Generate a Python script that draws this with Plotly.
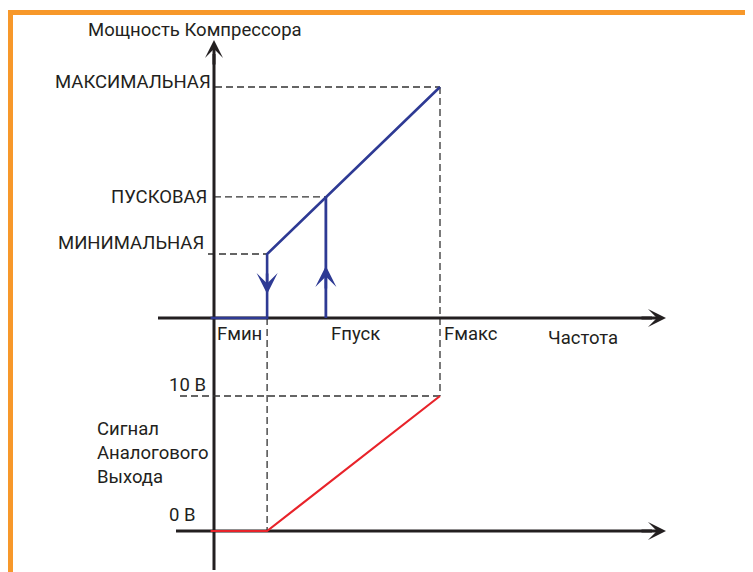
import plotly.graph_objects as go

# frequency marks on the horizontal axis (schematic units)
freq_marks = [23.5, 49.5, 100]
freq_labels = ["Fмин", "Fпуск", "Fмакс"]

# compressor power levels
power_levels = [27.7, 52.4, 100]
power_labels = ["МИНИМАЛЬНАЯ", "ПУСКОВАЯ", "МАКСИМАЛЬНАЯ"]

# analog output signal levels
volt_levels = [0, 10]
volt_labels = ["0 В", "10 В"]

# blue power curve
power_x = [-1.5, 23.5, 23.5, 100]
power_y = [0, 0, 27.7, 100]

# red analog output curve
signal_x = [-1.5, 23.5, 100]
signal_y = [0, 0, 10]

# page is drawn inside the default 8px body margin
OFF = 8
W, H = 753 - OFF, 572 - OFF
X0, XS = 214, 2.26      # page px of freq 0, px per unit
P0, PS = 318, 2.31      # page px of power 0, px per unit
V0, VS = 531, 13.5      # page px of 0 V, px per volt


def px_x(px):
    return (px - X0) / XS


def px_p(py):
    return (P0 - py) / PS


def px_v(py):
    return (V0 - py) / VS


FONT = "Roboto"
FSIZE = 18.5
TXT = "#231f20"
BLUE = "#2e3a94"
RED = "#e8232a"
DASH = "#333333"

fig = go.Figure()

fmin, fpusk, fmax = freq_marks
pmin, ppusk, pmax = power_levels

# dashed guide lines
dash_style = dict(color=DASH, width=1.3, dash="7px,4px")
guides = [
    ([px_x(215), fmax], [pmax, pmax], "y"),
    ([px_x(214), fpusk], [ppusk, ppusk], "y"),
    ([px_x(208), fmin], [pmin, pmin], "y"),
    ([fmax, fmax], [pmax, px_p(396)], "y"),
    ([fmin, fmin], [0, px_p(531)], "y"),
    ([px_x(180), fmax], [volt_levels[1], volt_levels[1]], "y2"),
]
for gx, gy, ax in guides:
    fig.add_trace(go.Scatter(x=gx, y=gy, yaxis=ax, mode="lines",
                             line=dash_style, hoverinfo="skip", showlegend=False))

# axis shafts (drawn under the curves)
axis_style = dict(color=TXT, width=3)
fig.add_trace(go.Scatter(x=[px_x(158), px_x(652)], y=[0, 0], mode="lines",
                         line=axis_style, hoverinfo="skip", showlegend=False))
fig.add_trace(go.Scatter(x=[0, 0], y=[px_p(570), px_p(54)], mode="lines",
                         line=axis_style, hoverinfo="skip", showlegend=False))
fig.add_trace(go.Scatter(x=[px_x(176), px_x(652)], y=[0, 0], yaxis="y2", mode="lines",
                         line=axis_style, hoverinfo="skip", showlegend=False))

# blue compressor power curve
fig.add_trace(go.Scatter(x=power_x, y=power_y, mode="lines",
                         line=dict(color=BLUE, width=2.6), showlegend=False))
fig.add_trace(go.Scatter(x=[fpusk, fpusk], y=[0, ppusk], mode="lines",
                         line=dict(color=BLUE, width=2.8), showlegend=False))

# red analog signal
fig.add_trace(go.Scatter(x=signal_x, y=signal_y, yaxis="y2", mode="lines",
                         line=dict(color=RED, width=2.2), showlegend=False))

annotations = []


def arrow_head(x0, y0, x1, y1, yref, color=TXT, width=3, size=1):
    annotations.append(dict(x=x1, y=y1, ax=x0, ay=y0, xref="x", yref=yref,
                            axref="x", ayref=yref, text="", showarrow=True,
                            arrowhead=3, arrowsize=size, arrowwidth=width,
                            arrowcolor=color, standoff=0))


# axis arrowheads
arrow_head(px_x(640), 0, px_x(666), 0, "y")
arrow_head(0, px_p(66), 0, px_p(40), "y")
arrow_head(px_x(640), 0, px_x(666), 0, "y2")

# blue direction arrows
arrow_head(fmin, px_p(272), fmin, px_p(294), "y", BLUE, 2.6, 1.35)
arrow_head(fpusk, px_p(290), fpusk, px_p(266), "y", BLUE, 2.6, 1.35)


def label(text, x, y, xanchor, yref="y"):
    annotations.append(dict(x=x, y=y, xref="x", yref=yref, text=text, showarrow=False,
                            xanchor=xanchor, yanchor="middle", borderpad=0,
                            font=dict(family=FONT, size=FSIZE, color=TXT)))


label("Мощность Компрессора", px_x(87), px_p(30), "left")
label("Частота", px_x(547), px_p(338), "left")

power_label_y = [243, 197, 82]
power_label_r = [205, 208, 212]
for txt, ly, lr in zip(power_labels, power_label_y, power_label_r):
    label(txt, px_x(lr), px_p(ly), "right")

freq_label_left = [216, 330, 443]
for txt, lx in zip(freq_labels, freq_label_left):
    label(txt, px_x(lx), px_p(334), "left")

volt_label_y = [515, 385]
volt_label_r = [197, 207]
for txt, ly, lr in zip(volt_labels, volt_label_y, volt_label_r):
    label(txt, px_x(lr), px_v(ly), "right", yref="y2")

for txt, ly in zip(["Сигнал", "Аналогового", "Выхода"], [429, 453, 477]):
    label(txt, px_x(96), px_v(ly), "left", yref="y2")

# orange frame
ORANGE = "#f7982a"


def paper_x(px):
    return (px - OFF) / W


def paper_y(py):
    return 1 - (py - OFF) / H


shapes = [
    dict(type="line", xref="paper", yref="paper", x0=paper_x(8), x1=1,
         y0=paper_y(12.5), y1=paper_y(12.5), line=dict(color=ORANGE, width=5)),
    dict(type="line", xref="paper", yref="paper", x0=paper_x(10.5), x1=paper_x(10.5),
         y0=0, y1=paper_y(10), line=dict(color=ORANGE, width=5)),
]

fig.update_layout(
    width=W, height=H,
    margin=dict(l=0, r=0, t=0, b=0),
    paper_bgcolor="white", plot_bgcolor="white",
    xaxis=dict(range=[px_x(OFF), px_x(753)], visible=False, fixedrange=True),
    yaxis=dict(range=[px_p(572), px_p(OFF)], visible=False, fixedrange=True),
    yaxis2=dict(range=[px_v(572), px_v(OFF)], visible=False, overlaying="y", fixedrange=True),
    annotations=annotations,
    shapes=shapes,
    showlegend=False,
)

fig.write_html("out.html")
